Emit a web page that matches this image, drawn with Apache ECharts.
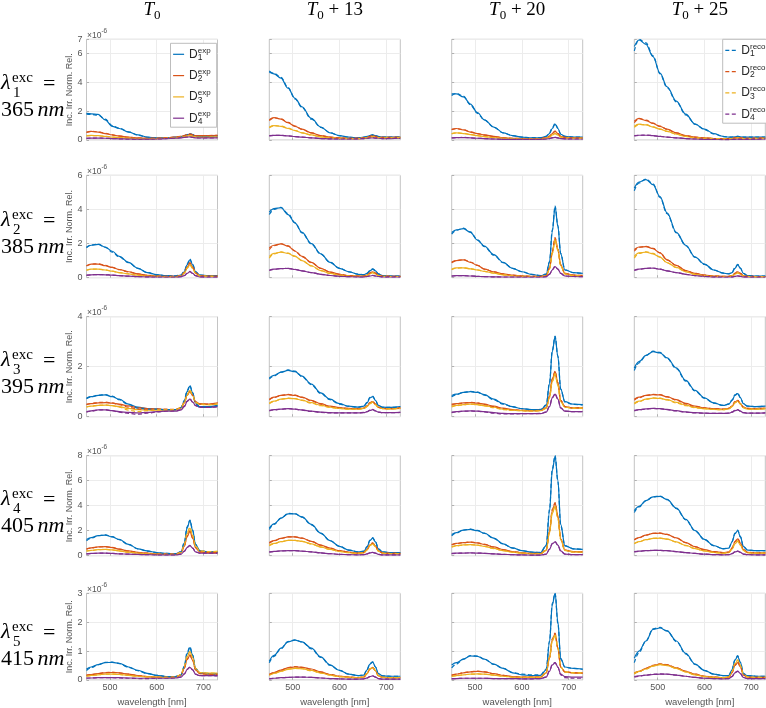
<!DOCTYPE html>
<html>
<head>
<meta charset="utf-8">
<script src="https://cdn.jsdelivr.net/npm/echarts@6.0.0/dist/echarts.min.js"></script>
<style>
html,body{margin:0;padding:0;background:#fff;}
#chart{width:766px;height:708px;}
</style>
</head>
<body>
<div id="chart"></div>
<script>
// ---------------- data ----------------
const wavelengths = [450,460,475,490,505,520,540,560,580,600,620,640,652,659,665,671,677,683,692,710,730];
const xTickValues = [500,600,700];
const colSuffix = ['', ' + 13', ' + 20', ' + 25'];
const rowExcitation = ['365','385','395','405','415'];
const rowMax = [7,6,4,8,3];
const rowStep = [2,2,2,2,1];
const expNames = ['D1exp','D2exp','D3exp','D4exp'];
const recoNames = ['D1reco','D2reco','D3reco','D4reco'];
const yAxisTitle = 'Inc. Irr. Norm. Rel.';
const xAxisTitle = 'wavelength [nm]';

// row 1 (365 nm)
const exp_r1c1 = [
 [1.85,1.82,1.78,1.4,0.95,0.8,0.55,0.35,0.2,0.15,0.15,0.2,0.22,0.28,0.35,0.42,0.35,0.28,0.25,0.25,0.28],
 [0.55,0.6,0.55,0.45,0.35,0.28,0.2,0.15,0.12,0.12,0.15,0.2,0.25,0.3,0.35,0.4,0.35,0.3,0.3,0.3,0.32],
 [0.3,0.32,0.3,0.25,0.2,0.17,0.13,0.1,0.1,0.1,0.12,0.15,0.2,0.22,0.28,0.3,0.25,0.22,0.2,0.2,0.22],
 [0.12,0.13,0.13,0.12,0.1,0.08,0.07,0.06,0.06,0.07,0.1,0.12,0.15,0.18,0.2,0.22,0.18,0.15,0.15,0.15,0.15]];
const reco_r1c1 = [
 [1.8,1.78,1.72,1.45,1.0,0.82,0.57,0.33,0.19,0.14,0.15,0.19,0.23,0.3,0.38,0.45,0.37,0.29,0.24,0.26,0.27],
 [0.52,0.6,0.57,0.47,0.36,0.27,0.19,0.14,0.12,0.13,0.16,0.21,0.26,0.31,0.37,0.42,0.36,0.3,0.29,0.31,0.33],
 [0.29,0.31,0.3,0.26,0.21,0.17,0.13,0.1,0.09,0.1,0.12,0.16,0.2,0.23,0.29,0.31,0.26,0.22,0.2,0.21,0.22],
 [0.11,0.13,0.14,0.12,0.1,0.08,0.06,0.05,0.06,0.07,0.1,0.13,0.16,0.18,0.21,0.22,0.19,0.15,0.14,0.15,0.16]];
const exp_r1c2 = [
 [4.8,4.6,4.3,3.6,2.9,2.3,1.5,0.9,0.5,0.3,0.2,0.15,0.2,0.25,0.3,0.35,0.3,0.25,0.2,0.2,0.2],
 [1.4,1.55,1.45,1.2,0.95,0.75,0.5,0.3,0.2,0.15,0.12,0.12,0.15,0.2,0.25,0.3,0.25,0.2,0.18,0.18,0.2],
 [0.9,1.0,0.95,0.8,0.65,0.5,0.35,0.22,0.15,0.12,0.1,0.1,0.13,0.17,0.2,0.22,0.2,0.17,0.15,0.15,0.17],
 [0.3,0.32,0.32,0.28,0.24,0.2,0.15,0.1,0.08,0.07,0.07,0.08,0.1,0.12,0.14,0.15,0.13,0.12,0.1,0.1,0.12]];
const reco_r1c2 = [
 [4.7,4.65,4.35,3.65,2.85,2.25,1.45,0.88,0.5,0.3,0.19,0.16,0.19,0.24,0.31,0.36,0.31,0.24,0.2,0.21,0.2],
 [1.35,1.55,1.47,1.22,0.97,0.74,0.49,0.3,0.2,0.15,0.12,0.13,0.15,0.2,0.26,0.31,0.26,0.2,0.18,0.19,0.2],
 [0.85,1.0,0.97,0.82,0.66,0.5,0.34,0.22,0.15,0.12,0.1,0.1,0.13,0.17,0.21,0.23,0.2,0.17,0.15,0.16,0.17],
 [0.29,0.32,0.33,0.29,0.24,0.2,0.15,0.1,0.08,0.07,0.07,0.08,0.1,0.12,0.14,0.16,0.13,0.12,0.1,0.11,0.12]];
const exp_r1c3 = [
 [3.2,3.2,3.0,2.5,1.9,1.4,0.9,0.5,0.3,0.2,0.15,0.15,0.25,0.45,0.8,1.1,0.8,0.4,0.25,0.2,0.2],
 [0.75,0.8,0.7,0.55,0.45,0.35,0.25,0.15,0.12,0.1,0.1,0.1,0.15,0.25,0.45,0.6,0.45,0.25,0.18,0.15,0.15],
 [0.45,0.5,0.45,0.38,0.3,0.24,0.17,0.12,0.1,0.08,0.08,0.08,0.12,0.2,0.35,0.45,0.35,0.2,0.14,0.12,0.12],
 [0.15,0.17,0.17,0.15,0.12,0.1,0.07,0.05,0.05,0.05,0.05,0.05,0.07,0.1,0.15,0.18,0.15,0.1,0.08,0.07,0.07]];
const reco_r1c3 = [
 [3.1,3.25,3.05,2.45,1.85,1.38,0.88,0.5,0.3,0.2,0.16,0.16,0.26,0.5,0.85,1.15,0.82,0.42,0.25,0.21,0.2],
 [0.72,0.8,0.72,0.57,0.45,0.34,0.24,0.15,0.12,0.1,0.1,0.1,0.15,0.27,0.47,0.62,0.46,0.26,0.18,0.15,0.15],
 [0.43,0.5,0.46,0.39,0.31,0.24,0.17,0.12,0.1,0.08,0.08,0.08,0.12,0.21,0.36,0.46,0.35,0.2,0.14,0.12,0.12],
 [0.14,0.17,0.18,0.15,0.12,0.1,0.07,0.05,0.05,0.05,0.05,0.05,0.07,0.1,0.16,0.19,0.15,0.1,0.08,0.07,0.07]];
const exp_r1c4 = [
 [6.5,6.95,6.65,5.8,4.65,3.7,2.7,1.8,1.1,0.75,0.45,0.25,0.2,0.2,0.22,0.25,0.22,0.2,0.2,0.2,0.2],
 [1.3,1.5,1.35,1.15,0.95,0.75,0.5,0.3,0.2,0.15,0.1,0.1,0.1,0.12,0.15,0.17,0.15,0.13,0.12,0.12,0.15],
 [0.95,1.1,1.05,0.9,0.75,0.6,0.4,0.25,0.15,0.12,0.1,0.08,0.08,0.1,0.12,0.14,0.12,0.1,0.1,0.1,0.12],
 [0.3,0.33,0.33,0.3,0.25,0.2,0.15,0.1,0.07,0.05,0.04,0.03,0.03,0.04,0.05,0.06,0.05,0.05,0.05,0.06,0.08]];
const reco_r1c4 = [
 [6.2,7.0,6.75,5.85,4.6,3.65,2.65,1.75,1.1,0.72,0.42,0.24,0.2,0.21,0.23,0.26,0.22,0.2,0.21,0.2,0.21],
 [1.2,1.48,1.38,1.17,0.96,0.74,0.49,0.3,0.2,0.14,0.1,0.1,0.1,0.12,0.16,0.18,0.15,0.13,0.12,0.13,0.15],
 [0.88,1.08,1.07,0.92,0.76,0.6,0.4,0.25,0.15,0.12,0.1,0.08,0.08,0.1,0.13,0.15,0.12,0.1,0.1,0.11,0.12],
 [0.28,0.33,0.34,0.31,0.25,0.2,0.15,0.1,0.07,0.05,0.04,0.03,0.03,0.04,0.05,0.06,0.05,0.05,0.06,0.06,0.08]];

// row 2 (385 nm)
const exp_r2c1 = [
 [1.8,1.9,1.95,1.8,1.55,1.25,0.9,0.55,0.3,0.18,0.12,0.1,0.15,0.35,0.75,1.05,0.75,0.35,0.15,0.12,0.12],
 [0.7,0.8,0.8,0.7,0.6,0.48,0.35,0.22,0.14,0.1,0.08,0.08,0.12,0.3,0.6,0.85,0.6,0.3,0.12,0.1,0.1],
 [0.45,0.5,0.5,0.45,0.38,0.3,0.22,0.15,0.1,0.08,0.06,0.06,0.1,0.25,0.55,0.75,0.55,0.25,0.1,0.08,0.08],
 [0.15,0.17,0.18,0.17,0.15,0.12,0.09,0.06,0.05,0.04,0.04,0.04,0.06,0.12,0.25,0.35,0.25,0.12,0.05,0.04,0.04]];
const reco_r2c1 = [
 [1.75,1.92,1.97,1.78,1.5,1.22,0.88,0.55,0.3,0.17,0.12,0.11,0.16,0.38,0.8,1.1,0.78,0.36,0.15,0.12,0.12],
 [0.68,0.8,0.82,0.72,0.6,0.47,0.34,0.22,0.14,0.1,0.08,0.08,0.12,0.32,0.62,0.88,0.62,0.3,0.12,0.1,0.1],
 [0.43,0.5,0.51,0.46,0.38,0.3,0.22,0.15,0.1,0.08,0.06,0.06,0.1,0.27,0.57,0.78,0.56,0.26,0.1,0.08,0.08],
 [0.14,0.17,0.18,0.17,0.15,0.12,0.09,0.06,0.05,0.04,0.04,0.04,0.06,0.13,0.26,0.37,0.26,0.12,0.05,0.04,0.04]];
const exp_r2c2 = [
 [3.85,4.05,4.1,3.7,3.2,2.65,2.0,1.4,0.9,0.55,0.35,0.2,0.17,0.25,0.4,0.5,0.4,0.22,0.12,0.1,0.1],
 [1.75,1.9,1.98,1.85,1.55,1.25,0.9,0.55,0.33,0.2,0.12,0.1,0.1,0.15,0.27,0.35,0.27,0.15,0.1,0.08,0.08],
 [1.25,1.42,1.5,1.42,1.25,1.0,0.7,0.42,0.25,0.15,0.1,0.08,0.08,0.13,0.22,0.3,0.22,0.13,0.08,0.07,0.07],
 [0.45,0.5,0.53,0.55,0.48,0.4,0.3,0.2,0.13,0.08,0.06,0.05,0.05,0.07,0.1,0.13,0.1,0.07,0.05,0.05,0.05]];
const reco_r2c2 = [
 [3.7,4.0,4.12,3.75,3.22,2.62,1.97,1.38,0.9,0.56,0.34,0.21,0.18,0.26,0.42,0.52,0.41,0.22,0.12,0.1,0.1],
 [1.65,1.88,1.99,1.87,1.57,1.24,0.88,0.55,0.33,0.2,0.12,0.1,0.1,0.16,0.28,0.36,0.27,0.15,0.1,0.08,0.08],
 [1.15,1.4,1.51,1.44,1.26,1.0,0.69,0.42,0.25,0.15,0.1,0.08,0.08,0.13,0.23,0.31,0.22,0.13,0.08,0.07,0.07],
 [0.42,0.49,0.53,0.55,0.49,0.4,0.3,0.2,0.13,0.08,0.06,0.05,0.05,0.07,0.11,0.14,0.1,0.07,0.05,0.05,0.05]];
const exp_r2c3 = [
 [2.65,2.8,2.88,2.65,2.2,1.85,1.35,0.9,0.55,0.35,0.2,0.12,0.2,0.9,2.7,4.15,3.0,1.4,0.45,0.3,0.25],
 [0.92,1.0,1.05,0.9,0.72,0.5,0.35,0.22,0.15,0.1,0.08,0.08,0.12,0.55,1.5,2.3,1.65,0.75,0.25,0.15,0.13],
 [0.5,0.57,0.58,0.52,0.45,0.37,0.27,0.17,0.12,0.08,0.07,0.07,0.1,0.5,1.4,2.2,1.6,0.7,0.22,0.12,0.1],
 [0.1,0.12,0.12,0.1,0.08,0.06,0.05,0.04,0.04,0.04,0.04,0.04,0.06,0.2,0.45,0.65,0.5,0.25,0.1,0.07,0.06]];
const reco_r2c3 = [
 [2.55,2.78,2.9,2.68,2.22,1.82,1.32,0.88,0.55,0.35,0.2,0.13,0.22,0.95,2.8,4.2,3.05,1.42,0.46,0.3,0.25],
 [0.88,1.0,1.06,0.92,0.73,0.5,0.34,0.22,0.15,0.1,0.08,0.08,0.13,0.58,1.55,2.35,1.68,0.76,0.25,0.15,0.13],
 [0.47,0.56,0.59,0.53,0.46,0.37,0.27,0.17,0.12,0.08,0.07,0.07,0.1,0.52,1.45,2.25,1.62,0.71,0.22,0.12,0.1],
 [0.09,0.12,0.12,0.11,0.08,0.06,0.05,0.04,0.04,0.04,0.04,0.04,0.06,0.21,0.47,0.67,0.5,0.25,0.1,0.07,0.06]];
const exp_r2c4 = [
 [5.25,5.6,5.75,5.45,4.75,3.8,2.65,1.9,1.2,0.8,0.45,0.27,0.22,0.3,0.55,0.75,0.55,0.25,0.12,0.1,0.1],
 [1.65,1.8,1.82,1.7,1.45,1.05,0.72,0.42,0.25,0.15,0.1,0.08,0.08,0.12,0.25,0.35,0.25,0.12,0.08,0.07,0.07],
 [1.25,1.45,1.5,1.4,1.2,0.88,0.6,0.35,0.2,0.12,0.08,0.07,0.07,0.1,0.2,0.28,0.2,0.1,0.07,0.06,0.06],
 [0.45,0.5,0.55,0.56,0.5,0.4,0.3,0.2,0.12,0.08,0.05,0.04,0.04,0.05,0.08,0.1,0.08,0.05,0.04,0.04,0.04]];
const reco_r2c4 = [
 [5.1,5.55,5.78,5.5,4.7,3.75,2.62,1.88,1.2,0.78,0.44,0.27,0.23,0.32,0.58,0.78,0.56,0.26,0.12,0.1,0.1],
 [1.55,1.78,1.84,1.72,1.46,1.04,0.71,0.42,0.25,0.15,0.1,0.08,0.08,0.13,0.26,0.36,0.25,0.12,0.08,0.07,0.07],
 [1.15,1.42,1.52,1.42,1.21,0.87,0.59,0.35,0.2,0.12,0.08,0.07,0.07,0.11,0.21,0.29,0.2,0.1,0.07,0.06,0.06],
 [0.42,0.49,0.55,0.57,0.5,0.4,0.3,0.2,0.12,0.08,0.05,0.04,0.04,0.05,0.08,0.11,0.08,0.05,0.04,0.04,0.04]];

// row 3 (395 nm)
const exp_r3c1 = [
 [0.75,0.8,0.85,0.87,0.8,0.7,0.5,0.38,0.32,0.3,0.27,0.27,0.35,0.6,1.0,1.22,0.95,0.55,0.4,0.4,0.45],
 [0.5,0.52,0.55,0.56,0.54,0.5,0.43,0.36,0.32,0.3,0.28,0.28,0.35,0.55,0.85,1.0,0.85,0.6,0.52,0.5,0.55],
 [0.4,0.42,0.45,0.46,0.44,0.4,0.33,0.28,0.26,0.26,0.26,0.27,0.35,0.55,0.85,1.05,0.85,0.58,0.5,0.48,0.5],
 [0.2,0.23,0.27,0.27,0.24,0.2,0.17,0.15,0.17,0.2,0.22,0.22,0.27,0.4,0.6,0.7,0.58,0.45,0.38,0.37,0.4]];
const reco_r3c1 = [
 [0.72,0.8,0.86,0.88,0.82,0.68,0.48,0.34,0.3,0.3,0.28,0.28,0.37,0.65,1.05,1.25,0.95,0.52,0.38,0.38,0.43],
 [0.48,0.53,0.57,0.58,0.55,0.48,0.38,0.3,0.3,0.31,0.3,0.29,0.36,0.57,0.88,1.02,0.85,0.58,0.5,0.5,0.56],
 [0.38,0.42,0.46,0.47,0.44,0.38,0.26,0.2,0.24,0.27,0.27,0.28,0.36,0.56,0.87,1.07,0.85,0.56,0.49,0.48,0.51],
 [0.18,0.22,0.27,0.28,0.24,0.18,0.13,0.1,0.14,0.19,0.22,0.23,0.28,0.42,0.62,0.72,0.58,0.44,0.37,0.37,0.4]];
const exp_r3c2 = [
 [1.55,1.65,1.78,1.85,1.8,1.62,1.3,0.95,0.7,0.52,0.42,0.38,0.42,0.55,0.75,0.8,0.65,0.45,0.38,0.37,0.4],
 [0.7,0.78,0.85,0.88,0.85,0.78,0.65,0.52,0.42,0.36,0.33,0.32,0.34,0.42,0.55,0.6,0.5,0.38,0.33,0.32,0.35],
 [0.55,0.62,0.7,0.73,0.72,0.66,0.56,0.46,0.38,0.33,0.3,0.3,0.33,0.4,0.52,0.58,0.48,0.37,0.32,0.31,0.33],
 [0.25,0.28,0.3,0.32,0.3,0.27,0.22,0.18,0.16,0.15,0.15,0.15,0.16,0.2,0.25,0.28,0.23,0.18,0.16,0.16,0.17]];
const reco_r3c2 = [
 [1.5,1.63,1.78,1.87,1.82,1.6,1.28,0.93,0.68,0.5,0.41,0.38,0.43,0.57,0.77,0.82,0.66,0.45,0.37,0.37,0.4],
 [0.67,0.77,0.85,0.89,0.86,0.77,0.63,0.5,0.41,0.36,0.33,0.32,0.35,0.43,0.56,0.62,0.5,0.38,0.33,0.32,0.35],
 [0.52,0.61,0.7,0.74,0.72,0.65,0.54,0.44,0.37,0.33,0.3,0.3,0.33,0.41,0.53,0.59,0.48,0.37,0.32,0.31,0.33],
 [0.23,0.27,0.3,0.32,0.3,0.26,0.21,0.17,0.15,0.15,0.15,0.15,0.17,0.2,0.26,0.29,0.23,0.18,0.16,0.16,0.17]];
const exp_r3c3 = [
 [0.85,0.9,0.97,1.0,0.97,0.88,0.7,0.52,0.4,0.32,0.28,0.28,0.45,1.3,2.6,3.2,2.4,1.1,0.6,0.5,0.48],
 [0.5,0.52,0.55,0.56,0.54,0.5,0.42,0.34,0.28,0.25,0.24,0.25,0.35,0.8,1.5,1.8,1.35,0.65,0.4,0.35,0.35],
 [0.42,0.45,0.48,0.5,0.48,0.44,0.38,0.3,0.26,0.24,0.23,0.24,0.33,0.75,1.4,1.7,1.25,0.6,0.38,0.34,0.34],
 [0.18,0.2,0.22,0.23,0.22,0.2,0.16,0.13,0.12,0.12,0.12,0.12,0.18,0.4,0.75,0.9,0.7,0.35,0.22,0.2,0.2]];
const reco_r3c3 = [
 [0.8,0.88,0.97,1.01,0.98,0.86,0.67,0.5,0.39,0.32,0.28,0.29,0.47,1.35,2.65,3.22,2.42,1.1,0.58,0.49,0.47],
 [0.47,0.51,0.55,0.57,0.55,0.49,0.4,0.32,0.27,0.25,0.24,0.25,0.36,0.82,1.52,1.82,1.36,0.65,0.4,0.35,0.35],
 [0.39,0.44,0.48,0.5,0.48,0.43,0.36,0.28,0.25,0.24,0.23,0.24,0.34,0.77,1.42,1.72,1.26,0.6,0.38,0.34,0.34],
 [0.16,0.19,0.22,0.23,0.22,0.19,0.14,0.11,0.11,0.12,0.12,0.13,0.19,0.42,0.77,0.92,0.7,0.35,0.22,0.2,0.2]];
const exp_r3c4 = [
 [1.95,2.2,2.45,2.6,2.55,2.35,1.95,1.45,1.05,0.75,0.55,0.45,0.5,0.65,0.85,0.92,0.75,0.52,0.42,0.4,0.42],
 [0.7,0.78,0.85,0.88,0.87,0.8,0.68,0.53,0.42,0.35,0.32,0.3,0.33,0.42,0.58,0.65,0.52,0.38,0.33,0.32,0.34],
 [0.55,0.62,0.7,0.74,0.73,0.68,0.57,0.46,0.37,0.32,0.29,0.28,0.31,0.4,0.55,0.62,0.5,0.36,0.3,0.3,0.32],
 [0.25,0.28,0.31,0.33,0.32,0.29,0.24,0.19,0.16,0.14,0.13,0.13,0.14,0.18,0.24,0.27,0.22,0.16,0.14,0.14,0.15]];
const reco_r3c4 = [
 [1.85,2.15,2.45,2.62,2.57,2.33,1.92,1.42,1.03,0.74,0.54,0.45,0.51,0.67,0.87,0.94,0.76,0.52,0.42,0.4,0.42],
 [0.66,0.76,0.85,0.89,0.88,0.79,0.66,0.51,0.41,0.35,0.32,0.3,0.34,0.43,0.6,0.66,0.52,0.38,0.33,0.32,0.34],
 [0.51,0.6,0.7,0.75,0.74,0.67,0.55,0.44,0.36,0.32,0.29,0.28,0.32,0.41,0.56,0.63,0.5,0.36,0.3,0.3,0.32],
 [0.23,0.27,0.31,0.33,0.32,0.28,0.23,0.18,0.15,0.14,0.13,0.13,0.14,0.19,0.25,0.28,0.22,0.16,0.14,0.14,0.15]];

// row 4 (405 nm)
const exp_r4c1 = [
 [1.3,1.45,1.6,1.65,1.5,1.3,0.9,0.55,0.38,0.25,0.18,0.15,0.3,1.0,2.2,2.8,2.0,0.9,0.4,0.3,0.3],
 [0.55,0.62,0.7,0.72,0.65,0.52,0.38,0.27,0.2,0.15,0.12,0.12,0.25,0.75,1.5,1.95,1.4,0.65,0.3,0.25,0.25],
 [0.38,0.43,0.48,0.5,0.46,0.38,0.28,0.2,0.15,0.12,0.1,0.1,0.25,0.85,1.75,2.2,1.6,0.75,0.38,0.32,0.35],
 [0.15,0.18,0.2,0.2,0.18,0.15,0.12,0.1,0.08,0.07,0.06,0.06,0.12,0.35,0.65,0.8,0.6,0.3,0.2,0.2,0.2]];
const reco_r4c1 = [
 [1.2,1.4,1.6,1.67,1.52,1.28,0.88,0.55,0.37,0.25,0.18,0.16,0.32,1.05,2.3,2.85,2.05,0.9,0.4,0.3,0.3],
 [0.52,0.61,0.7,0.73,0.66,0.52,0.37,0.27,0.2,0.15,0.12,0.12,0.26,0.78,1.55,1.98,1.42,0.65,0.3,0.25,0.25],
 [0.36,0.42,0.48,0.51,0.46,0.38,0.28,0.2,0.15,0.12,0.1,0.1,0.26,0.88,1.8,2.25,1.62,0.75,0.38,0.32,0.35],
 [0.14,0.17,0.2,0.21,0.18,0.15,0.12,0.1,0.08,0.07,0.06,0.06,0.13,0.37,0.67,0.82,0.6,0.3,0.2,0.2,0.2]];
const exp_r4c2 = [
 [2.2,2.55,3.0,3.35,3.35,3.1,2.5,1.8,1.2,0.75,0.45,0.3,0.35,0.7,1.2,1.4,1.1,0.55,0.3,0.25,0.25],
 [1.05,1.2,1.38,1.5,1.5,1.4,1.15,0.85,0.6,0.4,0.28,0.2,0.25,0.5,0.85,1.0,0.78,0.4,0.22,0.18,0.18],
 [0.85,0.98,1.12,1.22,1.22,1.14,0.95,0.7,0.5,0.34,0.24,0.18,0.23,0.45,0.8,0.95,0.72,0.37,0.2,0.17,0.17],
 [0.3,0.34,0.38,0.4,0.4,0.37,0.3,0.22,0.16,0.11,0.08,0.07,0.08,0.14,0.22,0.26,0.2,0.11,0.07,0.06,0.06]];
const reco_r4c2 = [
 [2.1,2.5,3.0,3.38,3.37,3.08,2.47,1.78,1.2,0.75,0.45,0.3,0.37,0.73,1.25,1.45,1.12,0.55,0.3,0.25,0.25],
 [1.0,1.18,1.38,1.51,1.51,1.4,1.14,0.84,0.6,0.4,0.28,0.2,0.26,0.52,0.88,1.03,0.79,0.4,0.22,0.18,0.18],
 [0.8,0.96,1.12,1.23,1.23,1.14,0.94,0.69,0.5,0.34,0.24,0.18,0.24,0.47,0.83,0.97,0.73,0.37,0.2,0.17,0.17],
 [0.28,0.33,0.38,0.41,0.4,0.37,0.3,0.22,0.16,0.11,0.08,0.07,0.08,0.15,0.23,0.27,0.2,0.11,0.07,0.06,0.06]];
const exp_r4c3 = [
 [1.7,1.85,2.05,2.1,2.0,1.8,1.4,0.95,0.62,0.4,0.28,0.25,0.8,3.5,6.8,7.95,6.0,2.5,0.8,0.55,0.5],
 [0.9,0.98,1.05,1.08,1.02,0.9,0.7,0.48,0.33,0.23,0.18,0.17,0.45,1.9,3.6,4.2,3.2,1.35,0.45,0.32,0.3],
 [0.72,0.8,0.86,0.88,0.84,0.75,0.58,0.4,0.28,0.2,0.15,0.15,0.42,1.8,3.4,3.95,3.0,1.3,0.43,0.3,0.28],
 [0.18,0.2,0.21,0.22,0.21,0.19,0.15,0.11,0.08,0.06,0.05,0.05,0.12,0.5,0.95,1.1,0.85,0.38,0.13,0.09,0.08]];
const reco_r4c3 = [
 [1.6,1.82,2.05,2.12,2.02,1.78,1.38,0.93,0.61,0.4,0.28,0.26,0.85,3.7,6.95,8.0,5.9,2.4,0.78,0.55,0.5],
 [0.85,0.96,1.05,1.09,1.03,0.9,0.69,0.47,0.33,0.23,0.18,0.18,0.48,2.0,3.7,4.25,3.15,1.3,0.44,0.32,0.3],
 [0.68,0.78,0.86,0.89,0.85,0.75,0.57,0.4,0.28,0.2,0.15,0.16,0.44,1.9,3.5,4.0,2.95,1.27,0.42,0.3,0.28],
 [0.17,0.19,0.21,0.22,0.21,0.19,0.15,0.11,0.08,0.06,0.05,0.05,0.13,0.53,0.98,1.12,0.84,0.37,0.13,0.09,0.08]];
const exp_r4c4 = [
 [3.6,3.95,4.4,4.7,4.75,4.5,3.8,2.9,2.0,1.3,0.8,0.55,0.6,1.1,1.75,2.0,1.5,0.75,0.45,0.4,0.4],
 [1.3,1.45,1.65,1.78,1.8,1.7,1.42,1.05,0.72,0.48,0.32,0.24,0.28,0.6,1.1,1.35,1.0,0.5,0.27,0.23,0.22],
 [1.0,1.12,1.28,1.38,1.4,1.32,1.1,0.82,0.57,0.38,0.26,0.2,0.24,0.52,0.95,1.15,0.85,0.42,0.23,0.2,0.2],
 [0.33,0.36,0.4,0.42,0.42,0.4,0.33,0.25,0.18,0.12,0.09,0.07,0.08,0.16,0.3,0.36,0.27,0.13,0.08,0.07,0.07]];
const reco_r4c4 = [
 [3.45,3.9,4.4,4.72,4.77,4.48,3.77,2.87,1.98,1.28,0.8,0.56,0.62,1.15,1.8,2.05,1.5,0.74,0.44,0.4,0.4],
 [1.25,1.43,1.65,1.79,1.81,1.7,1.41,1.04,0.71,0.48,0.32,0.24,0.29,0.62,1.13,1.38,1.0,0.5,0.27,0.23,0.22],
 [0.95,1.1,1.28,1.39,1.41,1.32,1.09,0.81,0.56,0.38,0.26,0.2,0.25,0.54,0.98,1.18,0.86,0.42,0.23,0.2,0.2],
 [0.31,0.35,0.4,0.43,0.42,0.4,0.33,0.25,0.18,0.12,0.09,0.07,0.08,0.17,0.31,0.37,0.27,0.13,0.08,0.07,0.07]];

// row 5 (415 nm)
const exp_r5c1 = [
 [0.38,0.45,0.53,0.6,0.61,0.58,0.45,0.33,0.23,0.16,0.12,0.12,0.17,0.45,0.9,1.12,0.85,0.4,0.25,0.22,0.22],
 [0.17,0.19,0.22,0.25,0.26,0.25,0.2,0.15,0.12,0.1,0.09,0.1,0.17,0.4,0.7,0.85,0.68,0.35,0.22,0.2,0.2],
 [0.14,0.16,0.18,0.2,0.2,0.19,0.16,0.13,0.11,0.1,0.09,0.1,0.18,0.45,0.8,0.97,0.78,0.4,0.26,0.24,0.24],
 [0.07,0.07,0.08,0.08,0.08,0.08,0.07,0.06,0.06,0.06,0.06,0.07,0.1,0.2,0.36,0.44,0.35,0.2,0.15,0.15,0.15]];
const reco_r5c1 = [
 [0.33,0.43,0.53,0.61,0.62,0.57,0.44,0.32,0.22,0.16,0.12,0.12,0.18,0.48,0.95,1.15,0.86,0.4,0.25,0.22,0.21],
 [0.16,0.19,0.22,0.26,0.27,0.25,0.2,0.15,0.12,0.1,0.09,0.1,0.18,0.42,0.72,0.87,0.68,0.35,0.22,0.2,0.19],
 [0.13,0.15,0.18,0.2,0.21,0.19,0.16,0.13,0.11,0.1,0.09,0.1,0.19,0.47,0.82,0.99,0.78,0.4,0.26,0.24,0.23],
 [0.06,0.07,0.08,0.08,0.08,0.07,0.06,0.05,0.05,0.06,0.06,0.07,0.11,0.21,0.37,0.45,0.35,0.2,0.15,0.15,0.14]];
const exp_r5c2 = [
 [0.65,0.85,1.1,1.32,1.38,1.32,1.1,0.8,0.52,0.33,0.2,0.15,0.17,0.35,0.55,0.62,0.45,0.22,0.14,0.13,0.13],
 [0.2,0.26,0.34,0.42,0.45,0.44,0.38,0.28,0.19,0.13,0.1,0.08,0.1,0.22,0.38,0.43,0.32,0.15,0.09,0.08,0.08],
 [0.18,0.23,0.3,0.37,0.4,0.39,0.33,0.25,0.17,0.12,0.09,0.08,0.1,0.22,0.38,0.43,0.32,0.15,0.09,0.08,0.08],
 [0.05,0.06,0.08,0.09,0.1,0.1,0.09,0.07,0.05,0.04,0.03,0.03,0.04,0.07,0.12,0.14,0.1,0.05,0.03,0.03,0.03]];
const reco_r5c2 = [
 [0.6,0.82,1.08,1.33,1.39,1.31,1.08,0.78,0.51,0.33,0.2,0.15,0.18,0.37,0.57,0.63,0.45,0.22,0.14,0.13,0.13],
 [0.18,0.25,0.34,0.43,0.46,0.44,0.37,0.27,0.19,0.13,0.1,0.08,0.11,0.23,0.39,0.44,0.32,0.15,0.09,0.08,0.08],
 [0.16,0.22,0.3,0.38,0.41,0.39,0.32,0.24,0.17,0.12,0.09,0.08,0.11,0.23,0.39,0.44,0.32,0.15,0.09,0.08,0.08],
 [0.04,0.06,0.08,0.09,0.1,0.1,0.09,0.07,0.05,0.04,0.03,0.03,0.04,0.07,0.12,0.14,0.1,0.05,0.03,0.03,0.03]];
const exp_r5c3 = [
 [0.52,0.6,0.72,0.83,0.82,0.72,0.55,0.4,0.25,0.18,0.15,0.16,0.35,1.3,2.6,3.0,2.0,0.75,0.45,0.4,0.38],
 [0.17,0.2,0.25,0.28,0.3,0.28,0.22,0.16,0.12,0.1,0.1,0.1,0.25,0.75,1.4,1.6,1.1,0.45,0.28,0.25,0.24],
 [0.13,0.15,0.18,0.2,0.21,0.2,0.17,0.13,0.1,0.09,0.09,0.09,0.25,0.75,1.35,1.55,1.1,0.45,0.28,0.25,0.25],
 [0.05,0.05,0.06,0.06,0.06,0.06,0.05,0.05,0.05,0.04,0.04,0.05,0.1,0.3,0.52,0.6,0.45,0.2,0.12,0.1,0.1]];
const reco_r5c3 = [
 [0.42,0.55,0.72,0.84,0.83,0.72,0.54,0.4,0.26,0.2,0.18,0.18,0.38,1.35,2.65,3.0,1.95,0.72,0.44,0.4,0.37],
 [0.16,0.2,0.25,0.29,0.31,0.28,0.22,0.16,0.12,0.1,0.1,0.1,0.27,0.78,1.42,1.62,1.1,0.45,0.28,0.25,0.24],
 [0.12,0.15,0.18,0.2,0.21,0.2,0.17,0.13,0.1,0.09,0.09,0.09,0.26,0.78,1.37,1.57,1.1,0.45,0.28,0.25,0.25],
 [0.04,0.05,0.06,0.06,0.06,0.06,0.05,0.05,0.05,0.04,0.04,0.05,0.11,0.32,0.54,0.6,0.44,0.18,0.08,0.06,0.06]];
const exp_r5c4 = [
 [0.75,1.0,1.35,1.75,1.8,1.7,1.35,0.92,0.55,0.33,0.2,0.15,0.15,0.35,0.68,0.82,0.6,0.22,0.15,0.13,0.13],
 [0.25,0.3,0.4,0.5,0.55,0.52,0.42,0.3,0.2,0.13,0.1,0.08,0.1,0.25,0.5,0.6,0.45,0.18,0.1,0.09,0.09],
 [0.24,0.3,0.38,0.48,0.53,0.5,0.4,0.28,0.18,0.12,0.09,0.08,0.1,0.28,0.55,0.68,0.5,0.2,0.1,0.09,0.09],
 [0.12,0.14,0.17,0.19,0.2,0.2,0.17,0.13,0.09,0.06,0.05,0.04,0.05,0.12,0.25,0.3,0.22,0.09,0.05,0.05,0.05]];
const reco_r5c4 = [
 [0.6,0.95,1.35,1.77,1.82,1.7,1.33,0.9,0.54,0.32,0.2,0.15,0.16,0.37,0.7,0.84,0.6,0.22,0.15,0.13,0.13],
 [0.22,0.29,0.4,0.51,0.56,0.53,0.42,0.3,0.2,0.13,0.1,0.08,0.1,0.26,0.52,0.62,0.45,0.18,0.1,0.09,0.09],
 [0.21,0.29,0.38,0.49,0.54,0.51,0.4,0.28,0.18,0.12,0.09,0.08,0.1,0.29,0.57,0.7,0.5,0.2,0.1,0.09,0.09],
 [0.1,0.13,0.17,0.2,0.21,0.2,0.17,0.13,0.09,0.06,0.05,0.04,0.05,0.13,0.26,0.31,0.22,0.09,0.05,0.05,0.05]];

const expPanels = [
 [exp_r1c1, exp_r1c2, exp_r1c3, exp_r1c4],
 [exp_r2c1, exp_r2c2, exp_r2c3, exp_r2c4],
 [exp_r3c1, exp_r3c2, exp_r3c3, exp_r3c4],
 [exp_r4c1, exp_r4c2, exp_r4c3, exp_r4c4],
 [exp_r5c1, exp_r5c2, exp_r5c3, exp_r5c4]];
const recoPanels = [
 [reco_r1c1, reco_r1c2, reco_r1c3, reco_r1c4],
 [reco_r2c1, reco_r2c2, reco_r2c3, reco_r2c4],
 [reco_r3c1, reco_r3c2, reco_r3c3, reco_r3c4],
 [reco_r4c1, reco_r4c2, reco_r4c3, reco_r4c4],
 [reco_r5c1, reco_r5c2, reco_r5c3, reco_r5c4]];

// ---------------- layout & style ----------------
const COLORS = ['#0072BD','#D95319','#EDB120','#7E2F8E'];
const SANS = '"Liberation Sans", Arial, Helvetica, sans-serif';
const SERIF = '"Liberation Serif", "Times New Roman", serif';
const colLeft = [86.5, 269.3, 451.7, 634.3];
const colWidth = 131;
const rowTop = [39.3, 175.3, 316.7, 455.7, 593.3];
const rowHeight = [100.7, 102.4, 100, 100, 90];
const AXIS_GRAY = '#555555';

const chart = echarts.init(document.getElementById('chart'), null, {renderer:'canvas'});

const grid = [], xAxis = [], yAxis = [], series = [], graphic = [];

function toPairs(arr){ return wavelengths.map((w,i)=>[w, arr[i]]); }

for (let r = 0; r < 5; r++) {
  for (let c = 0; c < 4; c++) {
    const idx = r*4 + c;
    const isBottom = r === 4, isLeft = c === 0;
    grid.push({left: colLeft[c], top: rowTop[r], width: colWidth, height: rowHeight[r],
      show: true, borderColor: '#c4c4c4', borderWidth: 1, backgroundColor: '#ffffff'});
    xAxis.push({gridIndex: idx, type: 'value', min: 450, max: 730,
      axisLine: {show: false},
      axisTick: {show: true, inside: true, length: 2.5, customValues: xTickValues, lineStyle: {color: '#b0b0b0', width: 1}},
      axisLabel: {show: isBottom, customValues: xTickValues, fontSize: 9, color: AXIS_GRAY, fontFamily: SANS, margin: 3},
      splitLine: {show: true, lineStyle: {color: '#ececec', width: 1}},
      name: isBottom ? xAxisTitle : '', nameLocation: 'middle', nameGap: 17,
      nameTextStyle: {fontSize: 9.5, color: AXIS_GRAY, fontFamily: SANS}
    });
    yAxis.push({gridIndex: idx, type: 'value', min: 0, max: rowMax[r], interval: rowStep[r],
      axisLine: {show: false},
      axisTick: {show: true, inside: true, length: 2.5, lineStyle: {color: '#b0b0b0', width: 1}},
      axisLabel: {show: isLeft, fontSize: 9, color: AXIS_GRAY, fontFamily: SANS, margin: 4},
      splitLine: {show: true, lineStyle: {color: '#ececec', width: 1}},
      name: isLeft ? yAxisTitle : '', nameLocation: 'middle', nameGap: 1,
      nameTextStyle: {fontSize: 9, color: AXIS_GRAY, fontFamily: SANS}
    });
    for (let k = 0; k < 4; k++) {
      series.push({type: 'line', name: expNames[k], xAxisIndex: idx, yAxisIndex: idx,
        data: toPairs(expPanels[r][c][k]), symbol: 'none', smooth: 0.35, smoothMonotone: 'x',
        lineStyle: {color: COLORS[k], width: 1.2, type: 'solid'}, itemStyle: {color: COLORS[k]},
        silent: true, z: 2});
    }
    for (let k = 0; k < 4; k++) {
      series.push({type: 'line', name: recoNames[k], xAxisIndex: idx, yAxisIndex: idx,
        data: toPairs(recoPanels[r][c][k]), symbol: 'none', smooth: 0.35, smoothMonotone: 'x',
        lineStyle: {color: COLORS[k], width: 1.2, type: [4, 2.5]}, itemStyle: {color: COLORS[k]},
        silent: true, z: 3});
    }
  }
}

// column titles
colSuffix.forEach((suf, c) => {
  graphic.push({type: 'text', x: colLeft[c] + colWidth/2, y: 10, silent: true,
    style: {text: '{t|T}{s|0}' + (suf ? '{p|' + suf + '}' : ''), align: 'center', verticalAlign: 'middle', fill: '#000',
      rich: {
        t: {fontSize: 19, fontStyle: 'italic', fontFamily: SERIF, lineHeight: 24, fill: '#000'},
        s: {fontSize: 13, fontFamily: SERIF, lineHeight: 13, verticalAlign: 'bottom', fill: '#000'},
        p: {fontSize: 19, fontFamily: SERIF, lineHeight: 24, fill: '#000'}
      }}});
});

// row labels + exponent labels
rowExcitation.forEach((nm, r) => {
  const cy = rowTop[r] + rowHeight[r]/2;
  graphic.push({type: 'text', x: 1, y: cy - 6.3, silent: true,
    style: {text: 'λ', fontSize: 22, fontStyle: 'italic', fontFamily: SERIF, fill: '#000', align: 'left', verticalAlign: 'middle'}});
  graphic.push({type: 'text', x: 12, y: cy - 11.5, silent: true,
    style: {text: 'exc', fontSize: 15, fontFamily: SERIF, fill: '#000', align: 'left', verticalAlign: 'middle'}});
  graphic.push({type: 'text', x: 13, y: cy + 3.3, silent: true,
    style: {text: String(r + 1), fontSize: 15, fontFamily: SERIF, fill: '#000', align: 'left', verticalAlign: 'middle'}});
  graphic.push({type: 'text', x: 43, y: cy - 5, silent: true,
    style: {text: '=', fontSize: 22, fontFamily: SERIF, fill: '#000', align: 'left', verticalAlign: 'middle'}});
  graphic.push({type: 'text', x: 1, y: cy + 21, silent: true,
    style: {text: '{n|' + nm + '}{g| }{u|nm}', align: 'left', verticalAlign: 'middle', fill: '#000',
      rich: {
        n: {fontSize: 22, fontFamily: SERIF, fill: '#000'},
        g: {fontSize: 14, fontFamily: SERIF, fill: '#000'},
        u: {fontSize: 22, fontFamily: SERIF, fontStyle: 'italic', fill: '#000'}
      }}});
  graphic.push({type: 'text', x: 87, y: rowTop[r] - 5.5, silent: true,
    style: {text: '{a|×10}{b|-6}', align: 'left', verticalAlign: 'middle', fill: AXIS_GRAY,
      rich: {
        a: {fontSize: 8.5, fontFamily: SANS, lineHeight: 12, verticalAlign: 'bottom', fill: AXIS_GRAY},
        b: {fontSize: 6.5, fontFamily: SANS, lineHeight: 7, verticalAlign: 'top', fill: AXIS_GRAY}
      }}});
});

function legendFormatter(name) {
  const k = name.charAt(1);
  const sup = name.slice(2);
  return '{d|D}{l|' + k + '}{u|' + sup + '}';
}
const legendRich = {
  d: {fontSize: 12, fontFamily: SANS, color: '#262626', lineHeight: 16, verticalAlign: 'middle'},
  l: {fontSize: 8.5, fontFamily: SANS, color: '#262626', lineHeight: 9, width: 0, verticalAlign: 'bottom'},
  u: {fontSize: 8, fontFamily: SANS, color: '#262626', lineHeight: 8, verticalAlign: 'top'}
};
const legendBase = {orient: 'vertical', itemWidth: 11, itemHeight: 8, itemGap: 5.3, itemTextGap: 2,
  padding: [3, 3, 1, 2], borderColor: '#bdbdbd', borderWidth: 1, backgroundColor: '#ffffff',
  selectedMode: false, formatter: legendFormatter, textStyle: {rich: legendRich},
  itemStyle: {opacity: 0, borderWidth: 0},
  lineStyle: {width: 1.2}};

chart.setOption({
  animation: false,
  backgroundColor: '#ffffff',
  grid, xAxis, yAxis, series, graphic,
  legend: [
    Object.assign({}, legendBase, {data: expNames, left: 170.5, top: 43.3, padding: [3, 6, 1, 2]}),
    Object.assign({}, legendBase, {data: recoNames, left: 722.7, top: 39.3})
  ]
});
</script>
</body>
</html>
